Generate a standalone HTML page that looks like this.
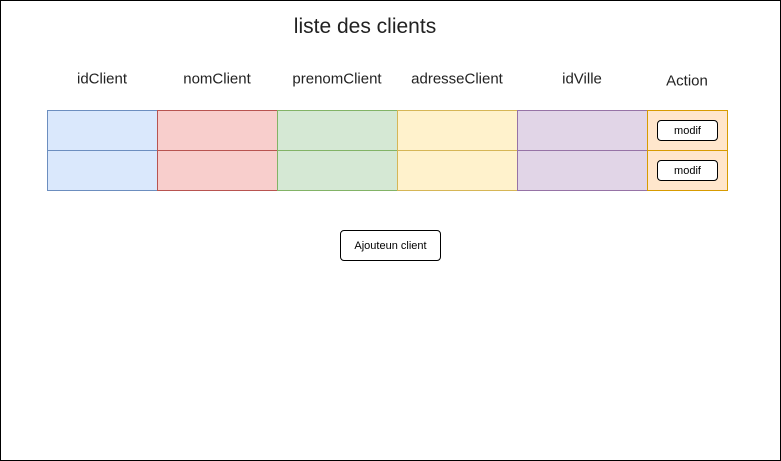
<!DOCTYPE html>
<html><head><style>
body{margin:0;width:781px;height:461px;position:relative;font-family:"Liberation Sans",Arial,sans-serif;background:#fff;overflow:hidden}
.f{position:absolute;left:0;top:0;width:779px;height:459px;border:1px solid #000}
.c{position:absolute;box-sizing:border-box;border:1px solid}
.t{position:absolute;text-align:center;font-size:15px;color:#222;transform:translate(-50%,-50%);white-space:nowrap}
.b{position:absolute;box-sizing:border-box;border:1px solid #000;border-radius:4px;background:#fff;font-size:11px;display:flex;align-items:center;justify-content:center}
</style></head><body>
<div class="f"></div>
<div class="t" style="left:365px;top:27px;font-size:21px">liste des clients</div>
<div class="t" style="left:102px;top:79px">idClient</div>
<div class="t" style="left:217px;top:79px">nomClient</div>
<div class="t" style="left:337px;top:79px">prenomClient</div>
<div class="t" style="left:457px;top:79px">adresseClient</div>
<div class="t" style="left:582px;top:79px">idVille</div>
<div class="t" style="left:687px;top:81px">Action</div>

<div class="c" style="left:47px;top:110px;width:111px;height:41px;background:#dae8fc;border-color:#6c8ebf"></div>
<div class="c" style="left:47px;top:150px;width:111px;height:41px;background:#dae8fc;border-color:#6c8ebf"></div>
<div class="c" style="left:157px;top:110px;width:121px;height:41px;background:#f8cecc;border-color:#b85450"></div>
<div class="c" style="left:157px;top:150px;width:121px;height:41px;background:#f8cecc;border-color:#b85450"></div>
<div class="c" style="left:277px;top:110px;width:121px;height:41px;background:#d5e8d4;border-color:#82b366"></div>
<div class="c" style="left:277px;top:150px;width:121px;height:41px;background:#d5e8d4;border-color:#82b366"></div>
<div class="c" style="left:397px;top:110px;width:121px;height:41px;background:#fff2cc;border-color:#d6b656"></div>
<div class="c" style="left:397px;top:150px;width:121px;height:41px;background:#fff2cc;border-color:#d6b656"></div>
<div class="c" style="left:517px;top:110px;width:131px;height:41px;background:#e1d5e7;border-color:#9673a6"></div>
<div class="c" style="left:517px;top:150px;width:131px;height:41px;background:#e1d5e7;border-color:#9673a6"></div>
<div class="c" style="left:647px;top:110px;width:81px;height:41px;background:#ffe6cc;border-color:#d79b00"></div>
<div class="c" style="left:647px;top:150px;width:81px;height:41px;background:#ffe6cc;border-color:#d79b00"></div>
<div class="b" style="left:657px;top:120px;width:61px;height:21px">modif</div>
<div class="b" style="left:657px;top:160px;width:61px;height:21px">modif</div>
<div class="b" style="left:340px;top:230px;width:101px;height:31px">Ajouteun client</div>
</body></html>
